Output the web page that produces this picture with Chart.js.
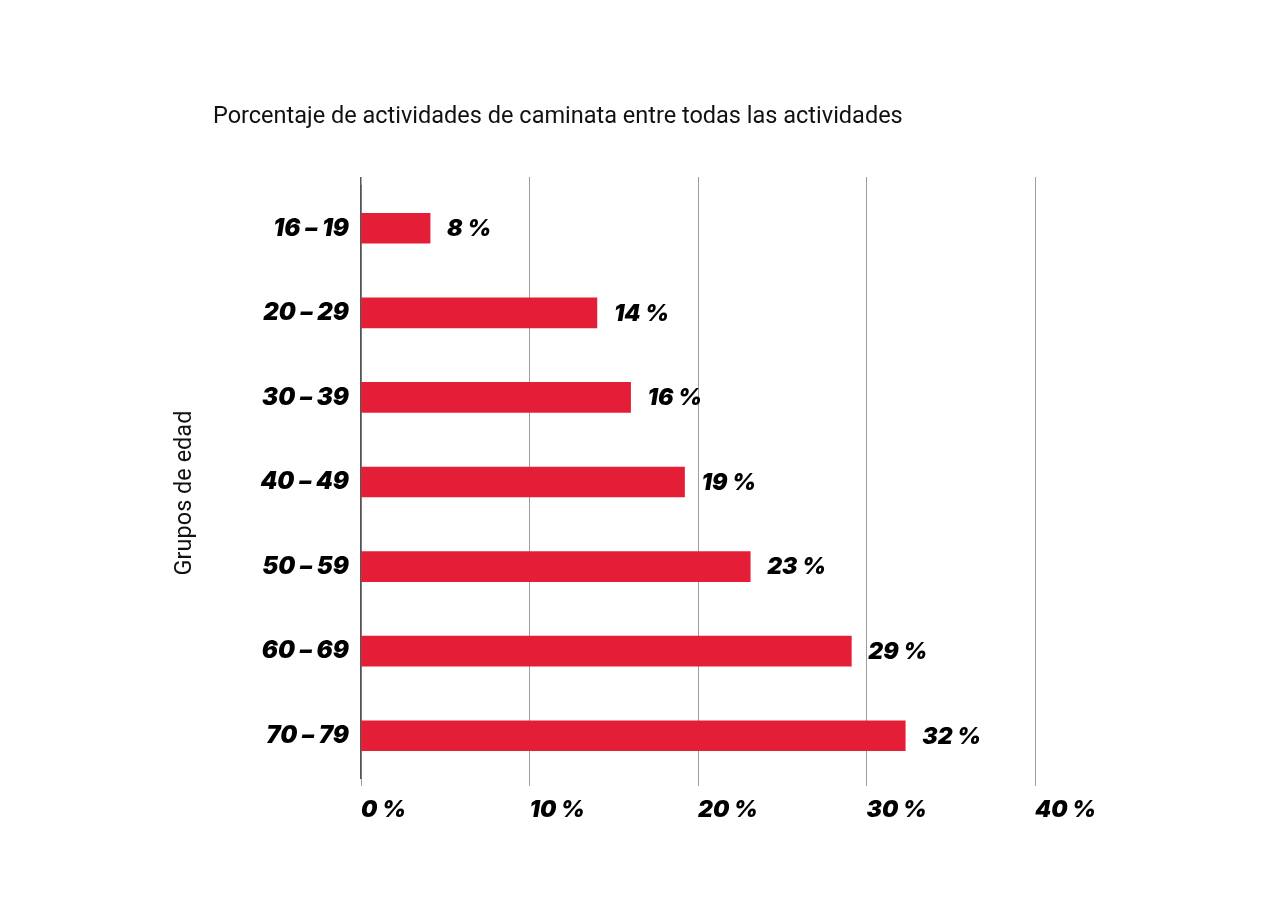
<!DOCTYPE html>
<html>
<head>
<meta charset="utf-8">
<script src="https://cdn.jsdelivr.net/npm/chart.js@4/dist/chart.umd.min.js"></script>
<style>
html,body{margin:0;padding:0;background:#fff;}
#c{display:block;}
</style>
</head>
<body>
<canvas id="c" width="1280" height="903"></canvas>
<script>
const categories = ["16 – 19", "20 – 29", "30 – 39", "40 – 49", "50 – 59", "60 – 69", "70 – 79"];
const barValues = [4.1, 14.0, 16.0, 19.2, 23.1, 29.1, 32.3];
const valueLabels = ["8 %", "14 %", "16 %", "19 %", "23 %", "29 %", "32 %"];
const xTicks = [0, 10, 20, 30, 40];
const chartTitle = "Porcentaje de actividades de caminata entre todas las actividades";
const yAxisTitle = "Grupos de edad";

const heavyFont = {family: "Inter", size: 23, weight: 900, style: "italic"};
const yTickFont = {family: "Inter", size: 24, weight: 900, style: "italic"};
const GRID_TOP = 177;

const extPlugin = {
  id: "gridExt",
  beforeDatasetsDraw(chart) {
    const ctx = chart.ctx;
    const area = chart.chartArea;
    const xs = chart.scales.x;
    ctx.save();
    ctx.lineWidth = 1;
    ctx.strokeStyle = "rgba(0,0,0,0.38)";
    xTicks.forEach((t) => {
      if (t === 0) return;
      const px = Math.round(xs.getPixelForValue(t) - 0.5) + 0.5;
      ctx.beginPath();
      ctx.moveTo(px, GRID_TOP);
      ctx.lineTo(px, area.top);
      ctx.stroke();
    });
    ctx.strokeStyle = "#555";
    ctx.lineWidth = 1.5;
    const p0 = Math.round(xs.getPixelForValue(0) - 0.75) + 0.75;
    ctx.beginPath();
    ctx.moveTo(p0, GRID_TOP);
    ctx.lineTo(p0, area.top + 1);
    ctx.stroke();
    ctx.restore();
  }
};

const textPlugin = {
  id: "texts",
  afterDraw(chart) {
    const ctx = chart.ctx;
    ctx.save();
    ctx.fillStyle = "#111";
    ctx.font = "400 23.5px Roboto";
    ctx.textAlign = "left";
    ctx.textBaseline = "middle";
    ctx.fillText(chartTitle, 213, 117);
    ctx.translate(185, 493);
    ctx.rotate(-Math.PI / 2);
    ctx.textAlign = "center";
    ctx.font = "400 23.5px Roboto";
    ctx.fillText(yAxisTitle, 0, 0);
    ctx.restore();

    const meta = chart.getDatasetMeta(0);
    ctx.save();
    ctx.fillStyle = "#000";
    ctx.font = "italic 900 23px Inter";
    ctx.textAlign = "left";
    ctx.textBaseline = "middle";
    meta.data.forEach((bar, i) => {
      ctx.fillText(valueLabels[i], bar.x + 17, bar.y + 1);
    });
    ctx.restore();
  }
};

new Chart(document.getElementById("c"), {
  type: "bar",
  data: {
    labels: categories,
    datasets: [{
      data: barValues,
      backgroundColor: "#E51E37",
      borderWidth: 0,
      barThickness: 30
    }]
  },
  options: {
    indexAxis: "y",
    responsive: false,
    animation: false,
    layout: {padding: {left: 165, right: 245, top: 186, bottom: 65}},
    plugins: {legend: {display: false}, tooltip: {enabled: false}, title: {display: false}},
    scales: {
      x: {
        min: 0, max: 40,
        z: 1,
        afterBuildTicks(scale) { scale.ticks = xTicks.map(v => ({value: v})); },
        afterFit(scale) { scale.height = 60; },
        grid: {color: "rgba(0,0,0,0.38)", lineWidth: 1, tickLength: 8, drawOnChartArea: true},
        border: {display: false},
        ticks: {
          align: "start",
          padding: 10,
          color: "#000",
          font: heavyFont,
          callback: (v) => v + " %"
        }
      },
      y: {
        z: 1,
        afterFit(scale) { scale.width = 361 - 165; },
        grid: {display: false, drawTicks: false},
        border: {display: true, color: "#555", width: 1.5},
        ticks: {padding: 12, color: "#000", font: yTickFont}
      }
    }
  },
  plugins: [extPlugin, textPlugin]
});
</script>
</body>
</html>
